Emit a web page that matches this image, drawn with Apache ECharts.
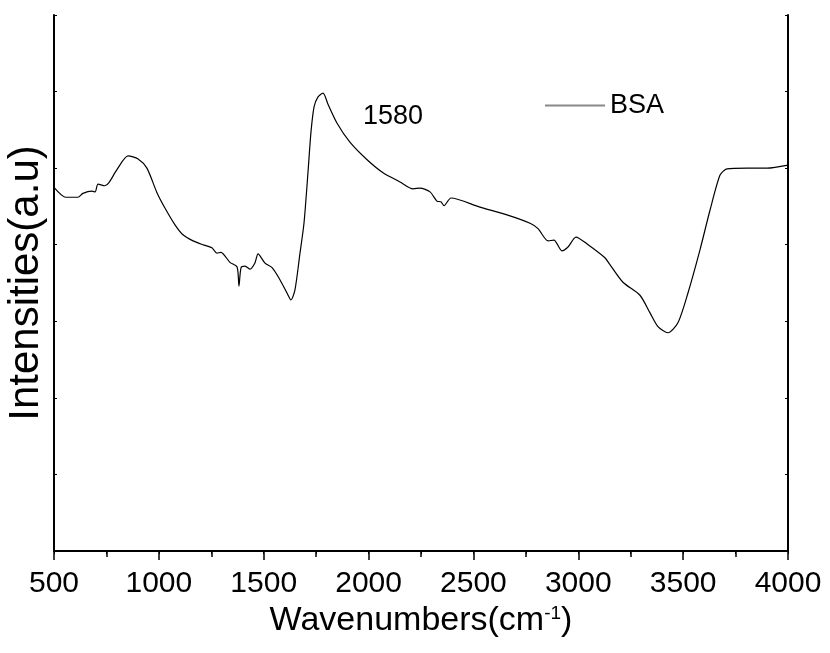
<!DOCTYPE html>
<html>
<head>
<meta charset="utf-8">
<script src="https://cdn.jsdelivr.net/npm/echarts@6/dist/echarts.min.js"></script>
<style>html,body{margin:0;padding:0;background:#fff}#c{width:830px;height:653px}</style>
</head>
<body>
<div id="c"></div>
<script>
const wavenumbers = [500,557,614,638,681,696,710,743,762,800,853,901,943,991,1029,1077,1115,1163,1210,1253,1277,1296,1339,1373,1382,1392,1411,1435,1458,1473,1506,1540,1578,1611,1630,1649,1673,1692,1711,1725,1740,1759,1783,1807,1849,1911,1993,2069,2150,2212,2245,2293,2326,2345,2360,2393,2531,2660,2770,2808,2856,2884,2922,2951,2989,3042,3127,3151,3213,3294,3342,3380,3428,3475,3523,3580,3628,3676,3709,3804,3900,4000];
const intensities = [4.75,4.62,4.62,4.67,4.70,4.69,4.79,4.77,4.81,4.98,5.16,5.12,5.00,4.68,4.48,4.26,4.13,4.05,4.00,3.96,3.89,3.90,3.77,3.71,3.46,3.70,3.72,3.68,3.76,3.88,3.76,3.70,3.54,3.37,3.28,3.41,3.89,4.28,4.94,5.46,5.80,5.93,5.98,5.83,5.59,5.34,5.11,4.94,4.82,4.73,4.74,4.69,4.57,4.56,4.51,4.61,4.49,4.39,4.28,4.21,4.05,4.06,3.92,3.97,4.10,4.01,3.83,3.74,3.51,3.34,3.11,2.93,2.85,2.98,3.37,3.93,4.45,4.91,4.99,5.00,5.00,5.04];
const seriesName = 'BSA';
const annotationText = '1580';
const annotationAt = [1973, 5.68];

const font = '"Liberation Sans", Arial, sans-serif';
const chart = echarts.init(document.getElementById('c'));
const axisLine = {show: true, lineStyle: {color: '#000', width: 2}};
chart.setOption({
  animation: false,
  backgroundColor: '#fff',
  grid: {left: 54, top: 15, right: 42, bottom: 102, containLabel: false, outerBoundsMode: 'none'},
  legend: {
    data: [{name: seriesName, icon: 'rect', itemStyle: {color: '#888'}}],
    left: 540, top: 87, itemWidth: 60, itemHeight: 2, itemGap: 8,
    textStyle: {fontFamily: font, fontSize: 27, color: '#000'}
  },
  xAxis: [{
    type: 'value', position: 'bottom', min: 500, max: 4000, interval: 500,
    axisLine: axisLine,
    axisTick: {show: true, inside: false, length: 9, lineStyle: {color: '#000', width: 1.5}},
    minorTick: {show: true, splitNumber: 2, length: 6, lineStyle: {color: '#000', width: 1.5}},
    axisLabel: {fontFamily: font, fontSize: 30, color: '#000', margin: 18, formatter: v => String(v)},
    splitLine: {show: false},
    name: 'Wavenumbers(cm{sup|-1})', nameLocation: 'middle', nameGap: 53,
    nameTextStyle: {fontFamily: font, fontSize: 34, color: '#000', rich: {sup: {fontSize: 19, verticalAlign: 'top', padding: [0, 0, 14, 0], fontFamily: font, color: '#000'}}}
  }, {
    type: 'value', position: 'top', min: 500, max: 4000, interval: 250,
    axisLine: axisLine,
    axisTick: {show: true, inside: true, length: 3, lineStyle: {color: '#000', width: 1}},
    axisLabel: {show: false}, splitLine: {show: false}
  }],
  yAxis: [{
    type: 'value', position: 'left', min: 0, max: 7, interval: 1,
    axisLine: axisLine,
    axisTick: {show: true, inside: true, length: 3, lineStyle: {color: '#000', width: 1}},
    axisLabel: {show: false}, splitLine: {show: false},
    name: 'Intensities(a.u)', nameLocation: 'middle', nameGap: 7, nameRotate: 90,
    nameTextStyle: {fontFamily: font, fontSize: 42, color: '#000'}
  }, {
    type: 'value', position: 'right', min: 0, max: 7, interval: 1,
    axisLine: axisLine,
    axisTick: {show: true, inside: true, length: 3, lineStyle: {color: '#000', width: 1}},
    axisLabel: {show: false}, splitLine: {show: false}
  }],
  series: [{
    name: seriesName, type: 'line', xAxisIndex: 0, yAxisIndex: 0,
    data: wavenumbers.map((w, i) => [w, intensities[i]]),
    symbol: 'none', smooth: 0.25,
    lineStyle: {color: '#000', width: 1.2}, itemStyle: {color: '#000'}
  }]
});
const p = chart.convertToPixel({xAxisIndex: 0, yAxisIndex: 0}, annotationAt);
chart.setOption({
  graphic: [{
    type: 'text', x: p[0], y: p[1],
    style: {text: annotationText, fontFamily: font, fontSize: 27, fill: '#000', textVerticalAlign: 'middle', textAlign: 'left'}
  }]
});
</script>
</body>
</html>
